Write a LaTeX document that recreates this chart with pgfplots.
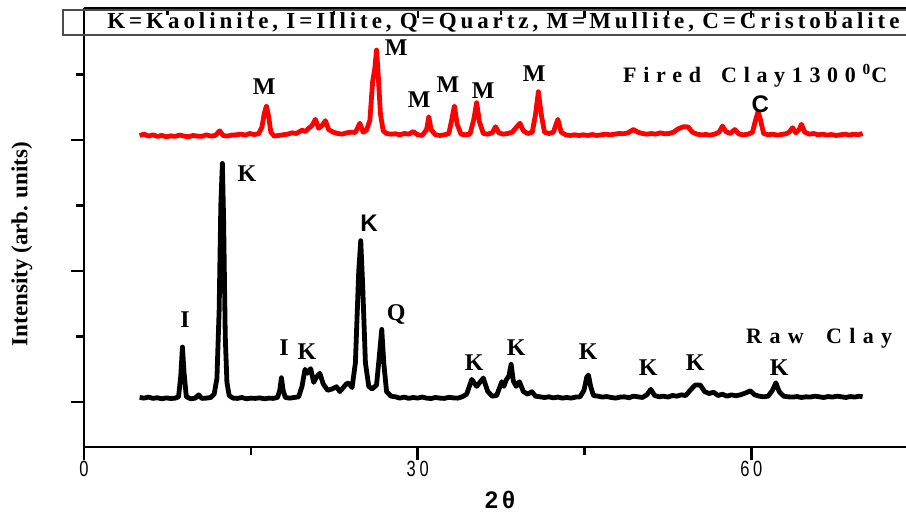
\documentclass[border=0pt]{standalone}
\usepackage{pgfplots}
\pgfplotsset{compat=1.18}
\usepackage{fontspec}
\setmainfont{Liberation Serif}
\setsansfont{Liberation Sans}
\newfontfamily\ticksans[FakeStretch=0.75]{Liberation Sans}

\pgfplotstableread{
x y
5.0 35
5.4 30
5.8 38
6.2 28
6.6 33
7.0 25
7.4 32
7.8 27
8.2 30
8.5 40
8.7 200
8.85 420
9.0 220
9.2 40
9.6 25
10.0 30
10.3 55
10.6 28
11.0 30
11.4 35
11.7 60
11.95 180
12.15 700
12.3 1500
12.44 1822
12.55 1400
12.7 500
12.85 150
13.05 50
13.4 30
13.8 28
14.2 35
14.6 25
15.0 30
15.4 28
15.8 32
16.2 25
16.6 30
17.0 28
17.4 35
17.6 90
17.75 186
17.9 90
18.1 35
18.5 30
18.9 35
19.3 40
19.6 120
19.87 250
20.1 220
20.38 255
20.65 150
20.9 190
21.2 220
21.5 140
21.9 90
22.3 100
22.7 117
23.0 80
23.3 110
23.6 140
23.8 145
24.1 110
24.4 300
24.7 1000
24.88 1232
25.05 900
25.3 300
25.6 120
25.9 100
26.3 130
26.55 350
26.77 555
26.95 300
27.2 80
27.6 45
28.0 40
28.4 30
28.8 38
29.2 28
29.6 35
30.0 30
30.4 38
30.8 30
31.2 27
31.6 35
32.0 30
32.4 28
32.8 36
33.2 32
33.6 30
34.0 40
34.4 60
34.86 173
35.3 120
35.9 183
36.3 80
36.7 45
37.1 50
37.56 155
37.75 120
37.95 168
38.2 200
38.4 288
38.6 160
38.85 120
39.15 155
39.5 80
39.9 60
40.26 79
40.6 45
41.0 40
41.4 35
41.8 40
42.2 32
42.6 38
43.0 30
43.4 35
43.8 30
44.2 38
44.6 40
44.95 90
45.2 190
45.35 206
45.55 120
45.8 50
46.2 45
46.6 38
47.0 42
47.4 35
47.8 30
48.2 38
48.6 40
49.0 33
49.4 45
49.8 40
50.2 35
50.6 55
50.96 97
51.3 50
51.7 40
52.1 45
52.5 38
52.9 50
53.3 45
53.7 55
54.1 50
54.5 90
54.95 130
55.4 130
55.8 80
56.2 65
56.6 75
57.0 50
57.4 60
57.8 45
58.2 55
58.6 48
59.0 55
59.5 70
59.9 86
60.3 55
60.7 45
61.1 40
61.5 45
61.9 90
62.2 147
62.5 80
62.9 45
63.3 40
63.7 38
64.1 42
64.5 35
64.9 40
65.3 38
65.7 45
66.1 40
66.5 35
66.9 42
67.3 38
67.7 45
68.1 40
68.5 35
68.9 42
69.3 38
69.7 45
70.0 40
}\rawclay

\pgfplotstableread{
x y
5.0 2035
5.4 2045
5.8 2030
6.2 2040
6.6 2028
7.0 2035
7.4 2025
7.8 2032
8.2 2028
8.6 2038
9.0 2030
9.4 2025
9.8 2035
10.2 2030
10.6 2028
11.0 2040
11.4 2030
11.8 2035
12.2 2070
12.5 2035
12.9 2030
13.3 2038
13.7 2040
14.1 2045
14.5 2038
14.9 2050
15.3 2042
15.7 2048
16.0 2100
16.2 2200
16.4 2260
16.6 2180
16.8 2060
17.1 2030
17.5 2035
17.9 2040
18.3 2045
18.7 2055
19.1 2050
19.6 2075
19.9 2065
20.2 2090
20.5 2110
20.8 2158
21.1 2090
21.4 2110
21.7 2148
22.0 2080
22.4 2060
22.8 2050
23.2 2045
23.6 2055
24.0 2060
24.4 2058
24.8 2128
25.1 2060
25.4 2075
25.7 2150
25.95 2445
26.15 2550
26.3 2687
26.45 2500
26.65 2200
26.9 2070
27.2 2050
27.6 2045
28.0 2048
28.4 2040
28.8 2050
29.2 2045
29.6 2065
30.0 2040
30.4 2035
30.8 2080
31.0 2178
31.2 2080
31.6 2040
32.0 2035
32.4 2040
32.8 2050
33.05 2150
33.3 2260
33.55 2120
33.9 2045
34.3 2040
34.7 2045
35.05 2160
35.3 2285
35.55 2140
35.9 2050
36.3 2045
36.7 2055
37.0 2102
37.3 2055
37.7 2045
38.1 2050
38.5 2060
39.0 2110
39.2 2128
39.5 2070
39.9 2050
40.3 2060
40.6 2200
40.85 2369
41.1 2200
41.4 2060
41.8 2050
42.2 2060
42.6 2158
42.9 2060
43.3 2040
43.7 2035
44.1 2040
44.5 2035
44.9 2040
45.3 2035
45.7 2042
46.1 2035
46.5 2040
46.9 2045
47.3 2040
47.7 2045
48.1 2050
48.5 2048
48.9 2055
49.4 2080
49.8 2060
50.2 2050
50.6 2045
51.0 2050
51.4 2045
51.8 2055
52.2 2048
52.6 2050
53.0 2060
53.4 2085
53.9 2102
54.3 2100
54.7 2060
55.1 2045
55.5 2040
55.9 2042
56.3 2038
56.7 2045
57.1 2060
57.4 2107
57.7 2065
58.1 2050
58.5 2080
58.9 2045
59.3 2040
59.7 2045
60.1 2060
60.4 2160
60.6 2216
60.8 2160
61.1 2050
61.5 2040
61.9 2045
62.3 2038
62.7 2042
63.1 2048
63.4 2060
63.7 2094
64.0 2055
64.3 2080
64.5 2120
64.8 2060
65.2 2045
65.6 2050
66.0 2040
66.4 2045
66.8 2038
67.2 2042
67.6 2035
68.0 2040
68.4 2045
68.8 2038
69.2 2045
69.6 2040
70.0 2050
}\firedclay

\begin{document}
\begin{tikzpicture}
% top spine ticks (inward, every 7.5)
\begin{axis}[
    at={(0,0)}, anchor=south west,
    scale only axis, width=411pt, height=219.5pt,
    xmin=0, xmax=73.9, ymin=0, ymax=1,
    axis x line*=top, axis y line=none,
    axis line style={line width=1.3pt, -},
    xtick={0,15,30,45,60}, minor xtick={7.5,22.5,37.5,52.5,67.5},
    xticklabels={},
    tick align=inside,
    major tick length=5pt, minor tick length=3.5pt,
    every tick/.style={black, line width=1.1pt},
]
\end{axis}
\begin{axis}[
    at={(0,0)}, anchor=south west,
    scale only axis, width=411pt, height=219.5pt,
    xmin=0, xmax=73.9, ymin=-343, ymax=3008,
    axis x line=box, axis y line=left,
    axis line style={line width=1.3pt, -},
    xtick={0,30,60}, minor xtick={15,45},
    xticklabels={0,{3\,0},{6\,0}},
    xtick pos=bottom,
    ytick={0,1000,2000}, minor ytick={500,1500,2500},
    yticklabels={},
    ytick pos=left,
    tick align=outside,
    major tick length=6.5pt, minor tick length=4pt,
    every tick/.style={black, line width=1.2pt},
    xticklabel style={font=\ticksans\fontsize{11}{12}\selectfont, yshift=3pt},
    clip=false,
]
\addplot[black, line width=2.4pt, line join=round] table {\rawclay};
\addplot[red, line width=2.4pt, line join=round] table {\firedclay};

% fired clay labels
\begin{scope}[every node/.style={font=\bfseries\fontsize{12}{14}\selectfont, inner sep=0pt}]
\node at (axis cs:16.19,2405) {M};
\node at (axis cs:28.06,2702) {M};
\node at (axis cs:30.13,2305) {M};
\node at (axis cs:32.73,2420) {M};
\node at (axis cs:35.88,2374) {M};
\node at (axis cs:40.47,2504) {M};
\node[font=\sffamily\bfseries\fontsize{12}{14}\selectfont] at (axis cs:60.79,2275) {C};
\node[font=\bfseries\fontsize{11}{13}\selectfont] at (axis cs:60.34,2489)
  {\makebox[132pt][s]{F i r e d \ \ C l a y 1 3 0 0 \textsuperscript{0}C}};
% raw clay labels
\node at (axis cs:9.08,626) {I};
\node at (axis cs:14.66,1740) {K};
\node at (axis cs:17.99,412) {I};
\node at (axis cs:20.05,382) {K};
\node[font=\sffamily\bfseries\fontsize{12}{14}\selectfont] at (axis cs:25.63,1366) {K};
\node at (axis cs:28.06,672) {Q};
\node at (axis cs:35.07,298) {K};
\node at (axis cs:38.85,412) {K};
\node at (axis cs:45.32,382) {K};
\node at (axis cs:50.72,260) {K};
\node at (axis cs:54.95,298) {K};
\node at (axis cs:62.5,260) {K};
\node[font=\bfseries\fontsize{11}{13}\selectfont] at (axis cs:66.1,489)
  {\makebox[73pt][s]{R a w \ \ C l a y}};
\end{scope}
\end{axis}

% key box along the top
\draw[gray!60!black, line width=0.9pt] (-10.5pt,206pt) rectangle (425pt,218.5pt);
\node[anchor=west, inner sep=0pt, font=\bfseries\fontsize{11.5}{13}\selectfont] at (11.5pt,212.3pt)
  {\makebox[396pt][s]{K = K a o l i n i t e , \ I = I l l i t e , \ Q = Q u a r t z , \ M = M u l l i t e , \ C = C r i s t o b a l i t e}};

% axis titles
\node[rotate=90, font=\bfseries\fontsize{11.5}{13}\selectfont] at (-31pt,101.5pt) {Intensity (arb. units)};
\node[font=\sffamily\bfseries\fontsize{12}{14}\selectfont] at (208pt,-26.5pt) {2\,θ};

\pgfresetboundingbox
\useasboundingbox (-42pt,-33pt) rectangle (411pt,223.5pt);
\end{tikzpicture}
\end{document}
